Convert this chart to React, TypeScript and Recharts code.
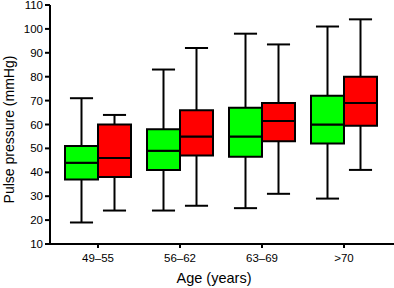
import { ComposedChart, Bar, XAxis, YAxis } from 'recharts';

const ageGroups = ['49–55', '56–62', '63–69', '>70'];

const greenMin = [19, 24, 25, 29];
const greenQ1 = [37, 41, 46.5, 52];
const greenMedian = [44, 49, 55, 60];
const greenQ3 = [51, 58, 67, 72];
const greenMax = [71, 83, 98, 101];

const redMin = [24, 26, 31, 41];
const redQ1 = [38, 47, 53, 59.5];
const redMedian = [46, 55, 61.5, 69];
const redQ3 = [60, 66, 69, 80];
const redMax = [64, 92, 93.5, 104];

const yTicks = [10, 20, 30, 40, 50, 60, 70, 80, 90, 100, 110];

const FONT = '"Liberation Sans", Arial, Helvetica, sans-serif';

// stacked segments: invisible base, lower whisker, lower box half, upper box half, upper whisker
const data = ageGroups.map((age, i) => ({
  age,
  gBase: greenMin[i],
  gLowW: greenQ1[i] - greenMin[i],
  gLowBox: greenMedian[i] - greenQ1[i],
  gUpBox: greenQ3[i] - greenMedian[i],
  gUpW: greenMax[i] - greenQ3[i],
  rBase: redMin[i],
  rLowW: redQ1[i] - redMin[i],
  rLowBox: redMedian[i] - redQ1[i],
  rUpBox: redQ3[i] - redMedian[i],
  rUpW: redMax[i] - redQ3[i],
}));

const Empty = () => <g />;

const LowerWhisker = (props: any) => {
  const { x, y, width, height } = props;
  const cx = x + width / 2;
  const half = width * 0.35;
  return (
    <g stroke="#000" strokeWidth={2}>
      <line x1={cx} x2={cx} y1={y} y2={y + height} />
      <line x1={cx - half} x2={cx + half} y1={y + height} y2={y + height} />
    </g>
  );
};

const UpperWhisker = (props: any) => {
  const { x, y, width, height } = props;
  const cx = x + width / 2;
  const half = width * 0.35;
  return (
    <g stroke="#000" strokeWidth={2}>
      <line x1={cx} x2={cx} y1={y} y2={y + height} />
      <line x1={cx - half} x2={cx + half} y1={y} y2={y} />
    </g>
  );
};

export default function App() {
  return (
    <div style={{ position: 'absolute', left: 0, top: 0, fontFamily: FONT }}>
      <ComposedChart
        width={394}
        height={288}
        data={data}
        margin={{ top: 5, right: 0, bottom: 0, left: 0 }}
        barGap={0}
        barSize={33}
      >
        <XAxis
          dataKey="age"
          height={44}
          padding={{ left: 7, right: 9 }}
          axisLine={{ stroke: '#000', strokeWidth: 2 }}
          tickLine={{ stroke: '#000', strokeWidth: 2 }}
          tickSize={4}
          tickMargin={6}
          tick={{ fill: '#000', fontSize: 11.5, fontFamily: FONT }}
          label={{
            content: (p: any) => {
              const vb = p.viewBox;
              return (
                <text
                  x={vb.x + vb.width / 2 - 8}
                  y={283}
                  textAnchor="middle"
                  fill="#000"
                  fontSize={14.5}
                  fontFamily={FONT}
                >
                  Age (years)
                </text>
              );
            },
          }}
        />
        <YAxis
          width={50}
          domain={[10, 110]}
          ticks={yTicks}
          allowDataOverflow
          interval={0}
          axisLine={{ stroke: '#000', strokeWidth: 2 }}
          tickLine={{ stroke: '#000', strokeWidth: 2 }}
          tickSize={5}
          tickMargin={2}
          tick={{ fill: '#000', fontSize: 11.5, fontFamily: FONT }}
          label={{
            content: (p: any) => {
              const vb = p.viewBox;
              const cx = 9;
              const cy = vb.y + vb.height / 2 + 5;
              return (
                <text
                  x={cx}
                  y={cy}
                  transform={`rotate(-90 ${cx} ${cy})`}
                  textAnchor="middle"
                  dominantBaseline="central"
                  fill="#000"
                  fontSize={14}
                  fontFamily={FONT}
                >
                  Pulse pressure (mmHg)
                </text>
              );
            },
          }}
        />
        <Bar dataKey="gBase" stackId="g" shape={<Empty />} isAnimationActive={false} />
        <Bar dataKey="gLowW" stackId="g" shape={<LowerWhisker />} isAnimationActive={false} />
        <Bar dataKey="gLowBox" stackId="g" fill="#00ff00" stroke="#000" strokeWidth={2} isAnimationActive={false} />
        <Bar dataKey="gUpBox" stackId="g" fill="#00ff00" stroke="#000" strokeWidth={2} isAnimationActive={false} />
        <Bar dataKey="gUpW" stackId="g" shape={<UpperWhisker />} isAnimationActive={false} />
        <Bar dataKey="rBase" stackId="r" shape={<Empty />} isAnimationActive={false} />
        <Bar dataKey="rLowW" stackId="r" shape={<LowerWhisker />} isAnimationActive={false} />
        <Bar dataKey="rLowBox" stackId="r" fill="#ff0000" stroke="#000" strokeWidth={2} isAnimationActive={false} />
        <Bar dataKey="rUpBox" stackId="r" fill="#ff0000" stroke="#000" strokeWidth={2} isAnimationActive={false} />
        <Bar dataKey="rUpW" stackId="r" shape={<UpperWhisker />} isAnimationActive={false} />
      </ComposedChart>
    </div>
  );
}
